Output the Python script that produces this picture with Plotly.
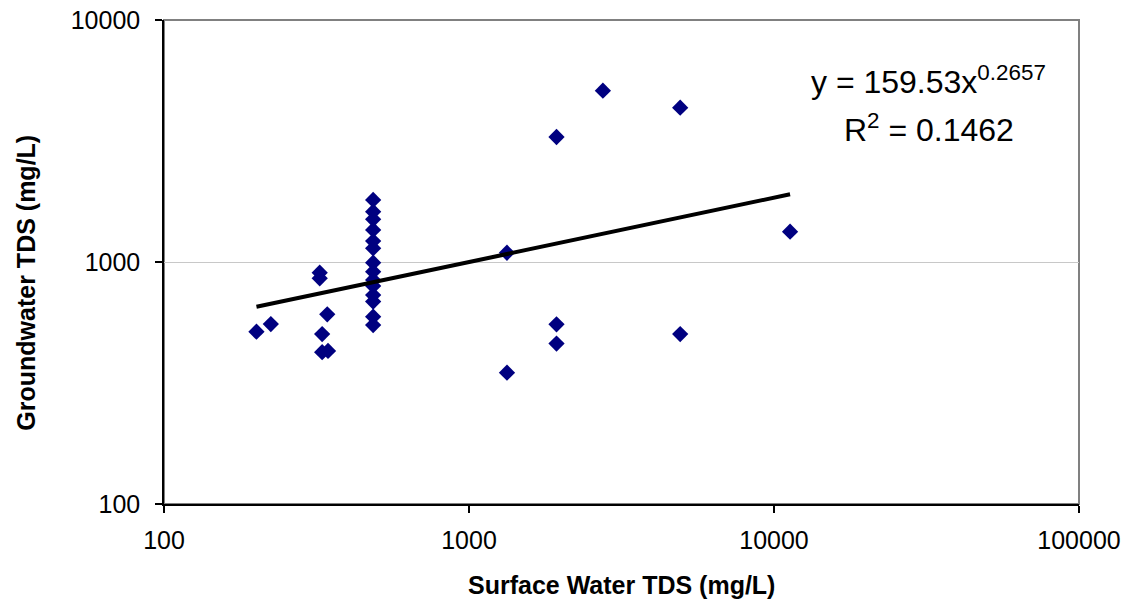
import plotly.graph_objects as go

# ---- data ----
surface_tds = [201, 224, 324, 324, 343, 330, 330, 345,
               485, 485, 485, 485, 485, 485, 485, 485, 485, 485, 485, 485, 485, 485,
               1332, 1332, 1936, 1936, 1936, 2748, 4925, 4925, 11290]
ground_tds = [515, 554, 903, 856, 608, 504, 424, 429,
              1804, 1614, 1501, 1356, 1221, 1139, 993, 912, 843, 796, 730, 686, 594, 549,
              1092, 349, 3285, 553, 460, 5102, 4344, 504, 1334]

# power trendline coefficients shown on the chart
fit_a = 159.53
fit_b = 0.2657
fit_r2 = 0.1462

x_tickvals = [100, 1000, 10000, 100000]
x_ticktext = ["100", "1000", "10000", "100000"]
y_tickvals = [100, 1000, 10000]
y_ticktext = ["100", "1000", "10000"]

x_title = "Surface Water TDS (mg/L)"
y_title = "Groundwater TDS (mg/L)"

# trendline evaluated at the observed x values
trend_x = sorted(set(surface_tds))
trend_y = [fit_a * v ** fit_b for v in trend_x]

FONT = "Liberation Sans, Arial, sans-serif"

fig = go.Figure()
fig.add_trace(go.Scatter(
    x=surface_tds, y=ground_tds, mode="markers",
    marker=dict(symbol="diamond", size=12.5, color="#000080", line=dict(width=0)),
    showlegend=False, hoverinfo="x+y"))
fig.add_trace(go.Scatter(
    x=trend_x, y=trend_y, mode="lines",
    line=dict(color="black", width=4),
    showlegend=False, hoverinfo="skip"))

fig.update_layout(
    width=1132, height=605,
    margin=dict(l=163.5, r=53, t=20, b=101, autoexpand=False),
    paper_bgcolor="white", plot_bgcolor="white",
    font=dict(family=FONT, color="black", size=25),
    xaxis=dict(type="log", range=[2, 5], tickmode="array",
               tickvals=x_tickvals, ticktext=x_ticktext,
               showgrid=False, zeroline=False, automargin=False,
               showline=True, linecolor="black", linewidth=1.5,
               ticks="outside", ticklen=7, tickcolor="black", tickwidth=1.5,
               ticklabelstandoff=6,
               tickfont=dict(size=25, family=FONT, color="black")),
    yaxis=dict(type="log", range=[2, 4], tickmode="array",
               tickvals=y_tickvals, ticktext=y_ticktext,
               showgrid=True, gridcolor="#c8c8c8", gridwidth=1,
               zeroline=False, automargin=False,
               showline=True, linecolor="black", linewidth=1.5,
               ticks="outside", ticklen=7, tickcolor="black", tickwidth=1.5,
               ticklabelstandoff=10,
               tickfont=dict(size=25, family=FONT, color="black")),
    shapes=[dict(type="rect", xref="paper", yref="paper", x0=0, y0=0, x1=1, y1=1,
                 line=dict(color="#808080", width=2), layer="below")],
    annotations=[
        dict(xref="paper", yref="paper", x=0.836, y=0.877,
             text=f"y = {fit_a}x<sup>{fit_b}</sup>", showarrow=False,
             xanchor="center", yanchor="middle",
             font=dict(size=32, family=FONT, color="black")),
        dict(xref="paper", yref="paper", x=0.836, y=0.777,
             text=f"R<sup>2</sup> = {fit_r2}", showarrow=False,
             xanchor="center", yanchor="middle",
             font=dict(size=32, family=FONT, color="black")),
        dict(xref="paper", yref="paper", x=0.5, y=-0.167,
             text=f"<b>{x_title}</b>", showarrow=False,
             xanchor="center", yanchor="middle",
             font=dict(size=25, family=FONT, color="black")),
        dict(xref="paper", yref="paper", x=-0.151, y=0.457,
             text=f"<b>{y_title}</b>", showarrow=False, textangle=-90,
             xanchor="center", yanchor="middle",
             font=dict(size=25, family=FONT, color="black")),
    ],
)

fig.write_html("out.html",
               config={"displayModeBar": False},
               post_script="document.body.style.margin='0';document.body.style.padding='0';")
